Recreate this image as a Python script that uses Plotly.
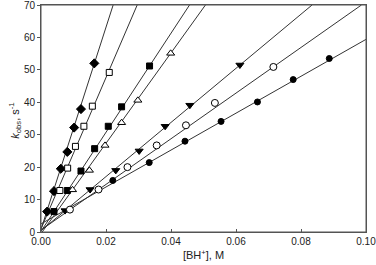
import plotly.graph_objects as go

# ---- data ----
dia_x = [0.0019, 0.0040, 0.0061, 0.0081, 0.0102, 0.0123, 0.0164]
dia_y = [6.3, 12.6, 19.5, 24.7, 32.2, 37.9, 52.0]

osq_x = [0.0058, 0.0082, 0.0106, 0.0132, 0.0158, 0.0210]
osq_y = [12.8, 19.7, 26.4, 32.6, 38.8, 49.2]

fsq_x = [0.0040, 0.0081, 0.0123, 0.0165, 0.0207, 0.0248, 0.0334]
fsq_y = [6.3, 12.8, 18.8, 25.7, 32.6, 38.6, 51.2]

tri_x = [0.0097, 0.0149, 0.0197, 0.0248, 0.0298, 0.0399]
tri_y = [13.0, 19.0, 26.7, 33.7, 40.6, 55.1]

itr_x = [0.0074, 0.0151, 0.0230, 0.0302, 0.0382, 0.0458, 0.0612]
itr_y = [6.6, 13.1, 19.0, 25.0, 32.6, 39.1, 51.5]

oci_x = [0.0089, 0.0177, 0.0266, 0.0356, 0.0446, 0.0535, 0.0715]
oci_y = [6.9, 13.1, 20.0, 26.7, 32.9, 39.8, 50.9]

fci_x = [0.0221, 0.0333, 0.0443, 0.0554, 0.0666, 0.0776, 0.0887]
fci_y = [15.9, 21.4, 28.0, 34.1, 40.1, 47.0, 53.5]

# fitted lines: start and end points
fit_dia = ([0.0, 0.0222], [0.8, 70.0])
fit_osq = ([0.0, 0.0296], [1.0, 70.0])
fit_fsq = ([0.0, 0.0457], [0.2, 70.0])
fit_tri = ([0.0, 0.0506], [-0.5, 70.0])
fit_itr = ([0.0, 0.0834], [0.4, 70.0])
fit_oci = ([0.0, 0.0986], [0.6, 70.0])
fit_fci = ([0.0, 0.1000], [2.5, 59.4])

x_ticks = [0.00, 0.02, 0.04, 0.06, 0.08, 0.10]
y_ticks = [0, 10, 20, 30, 40, 50, 60, 70]

fig = go.Figure()

LINE_COLOR = "#333333"
for fx, fy in [fit_dia, fit_osq, fit_fsq, fit_tri, fit_itr, fit_oci, fit_fci]:
    fig.add_trace(go.Scatter(x=fx, y=fy, mode="lines",
                             line=dict(color=LINE_COLOR, width=1),
                             hoverinfo="skip", showlegend=False))

series = [
    (dia_x, dia_y, "diamond", "black", 7),
    (osq_x, osq_y, "square", "white", 6),
    (fsq_x, fsq_y, "square", "black", 6),
    (tri_x, tri_y, "triangle-up", "white", 7),
    (itr_x, itr_y, "triangle-down", "black", 7),
    (oci_x, oci_y, "circle", "white", 7),
    (fci_x, fci_y, "circle", "black", 6),
]
for sx, sy, sym, fill, size in series:
    fig.add_trace(go.Scatter(
        x=sx, y=sy, mode="markers", cliponaxis=False,
        marker=dict(symbol=sym, color=fill, size=size,
                    line=dict(color="black", width=1)),
        showlegend=False))

AX = "#555555"
fig.update_layout(
    width=376, height=265,
    margin=dict(l=41, r=10, t=5, b=33),
    paper_bgcolor="white", plot_bgcolor="white",
    font=dict(family="Liberation Sans, Arial, sans-serif", size=10, color="#222222"),
    xaxis=dict(range=[0, 0.10], tickvals=x_ticks, tickformat=".2f",
               showgrid=False, zeroline=False, showline=True, mirror=True,
               linecolor=AX, linewidth=1, ticks="inside", ticklen=3,
               tickcolor=AX, automargin=False, ticklabeloverflow="allow",
               title=dict(text="[BH<sup>+</sup>], M", standoff=5,
                          font=dict(size=11))),
    yaxis=dict(range=[0, 70], tickvals=y_ticks,
               showgrid=False, zeroline=False, showline=True, mirror=True,
               linecolor=AX, linewidth=1, ticks="outside", ticklen=3,
               tickcolor=AX, automargin=False, ticklabeloverflow="allow"),
    annotations=[dict(text="<i>k</i><sub>obs</sub>, s<sup>-1</sup>",
                      xref="paper", yref="paper", x=-0.08, y=0.49,
                      xanchor="center", yanchor="middle", textangle=-90,
                      showarrow=False, font=dict(size=11))],
    shapes=[dict(type="rect", xref="paper", yref="paper", x0=0, y0=0, x1=1, y1=1,
                 line=dict(color=AX, width=1), fillcolor="rgba(0,0,0,0)", layer="above")],
)

fig.write_html("out.html", config={"displayModeBar": False},
               post_script="document.body.style.margin='0';document.body.style.padding='0';")
